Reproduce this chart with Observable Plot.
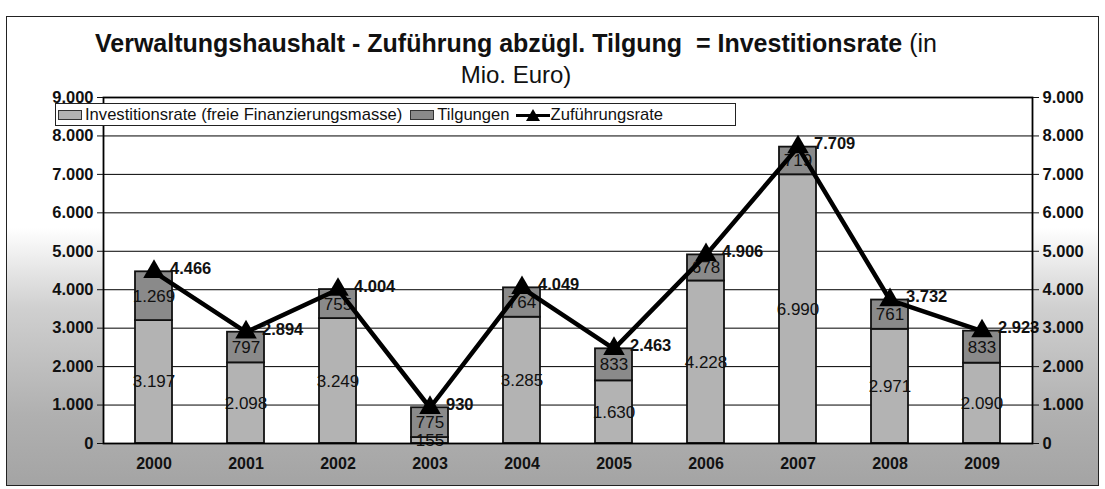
<!DOCTYPE html>
<html>
<head>
<meta charset="utf-8">
<script src="https://cdn.jsdelivr.net/npm/d3@7"></script>
<script src="https://cdn.jsdelivr.net/npm/@observablehq/plot@0.6"></script>
<style>
  html, body { margin: 0; padding: 0; background: #fff; }
  #wrap {
    position: relative; width: 1105px; height: 489px; overflow: hidden;
    font-family: "Liberation Sans", Arial, sans-serif;
  }
  #frame {
    position: absolute; left: 6px; top: 16px; width: 1093px; height: 470px;
    border: 1.5px solid #222; box-sizing: border-box;
    background: linear-gradient(to bottom, #fff 0%, #fff 45%, #d0d0d0 62%, #b0b0b0 85%, #a4a4a4 100%);
  }
  #title {
    position: absolute; left: 16px; width: 1000px; top: 28px; text-align: center;
    font-size: 25px; line-height: 31px; color: #111;
  }
  #title b { font-weight: bold; }
  #title .sub { font-size: 24px; }
  #chart { position: absolute; left: 0; top: 85px; }
  #legend {
    position: absolute; left: 55px; top: 103px; height: 23px; width: 681px;
    background: #fff; border: 1px solid #222; box-sizing: border-box;
    display: flex; align-items: center; font-size: 16.6px; color: #111; white-space: nowrap;
  }
  .sw { display: inline-block; width: 22px; height: 8px; border: 1px solid #333; margin: 0 3px 0 2px; }
  .ln { display: inline-block; position: relative; width: 34px; height: 12px; margin: 0 1px 0 6px; }
  .ln::before { content: ""; position: absolute; left: 0; right: 0; top: 5px; height: 3px; background: #000; }
  .ln::after { content: ""; position: absolute; left: 10px; top: 0; width: 0; height: 0;
    border-left: 7px solid transparent; border-right: 7px solid transparent; border-bottom: 12px solid #000; }
</style>
</head>
<body>
<div id="wrap">
  <div id="frame"></div>
  <div id="title"><b>Verwaltungshaushalt - Zuführung abzügl. Tilgung&nbsp; = Investitionsrate</b> (in<br><span class="sub">Mio. Euro)</span></div>
  <div id="chart"></div>
  <div id="legend">
    <span class="sw" style="background:#b3b3b3"></span>Investitionsrate (freie Finanzierungsmasse)
    <span class="sw" style="background:#8a8a8a; margin-left:8px"></span>Tilgungen
    <span class="ln"></span>Zuführungsrate
  </div>
</div>
<script>
const years = ["2000", "2001", "2002", "2003", "2004", "2005", "2006", "2007", "2008", "2009"];
const investitionsrate = [3197, 2098, 3249, 155, 3285, 1630, 4228, 6990, 2971, 2090];
const tilgungen = [1269, 797, 755, 775, 764, 833, 678, 719, 761, 833];
const zufuehrungsrate = [4466, 2894, 4004, 930, 4049, 2463, 4906, 7709, 3732, 2923];
const yTicks = [0, 1000, 2000, 3000, 4000, 5000, 6000, 7000, 8000, 9000];

const fmt = d3.formatLocale({decimal: ",", thousands: ".", grouping: [3], currency: ["", " €"]}).format(",d");

const bars = years.flatMap((y, i) => [
  {year: y, series: "Investitionsrate", value: investitionsrate[i]},
  {year: y, series: "Tilgungen", value: tilgungen[i]}
]);
const line = years.map((y, i) => ({year: y, value: zufuehrungsrate[i]}));

const chart = Plot.plot({
  width: 1105,
  height: 404,
  marginLeft: 103,
  marginRight: 73,
  marginTop: 12,
  marginBottom: 46,
  style: {fontFamily: "'Liberation Sans', Arial, sans-serif", background: "transparent", color: "#111"},
  x: {domain: years, paddingInner: 0.6, paddingOuter: 0.3, label: null},
  y: {domain: [0, 9000], ticks: yTicks, label: null},
  color: {domain: ["Investitionsrate", "Tilgungen"], range: ["#b3b3b3", "#8a8a8a"]},
  marks: [
    Plot.frame({fill: "white", stroke: null}),
    Plot.gridY(yTicks, {stroke: "#000", strokeOpacity: 1, strokeWidth: 1}),
    Plot.barY(bars, {x: "year", y: "value", fill: "series", stroke: "#111", strokeWidth: 1.8}),
    Plot.text(bars, Plot.stackY({x: "year", y: "value", text: d => fmt(d.value), fontSize: 17, fill: "#111"})),
    Plot.line(line, {x: "year", y: "value", stroke: "#000", strokeWidth: 4.5}),
    Plot.dot(line, {x: "year", y: "value", symbol: "triangle", r: 8, fill: "#000", stroke: null}),
    Plot.text(line, {x: "year", y: "value", text: d => fmt(d.value), dx: 16, dy: -3, textAnchor: "start", fontWeight: "bold", fontSize: 16.5, fill: "#111"}),
    Plot.frame({stroke: "#000", strokeWidth: 1.8}),
    Plot.axisY(yTicks, {anchor: "left", tickFormat: fmt, fontWeight: "bold", fontSize: 16.5, tickSize: 6, tickPadding: 4, label: null}),
    Plot.axisY(yTicks, {anchor: "right", tickFormat: fmt, fontWeight: "bold", fontSize: 16.5, tickSize: 6, tickPadding: 4, label: null}),
    Plot.axisX({fontWeight: "bold", fontSize: 16, tickSize: 0, tickPadding: 14, label: null})
  ]
});
document.getElementById("chart").appendChild(chart);
</script>
</body>
</html>
